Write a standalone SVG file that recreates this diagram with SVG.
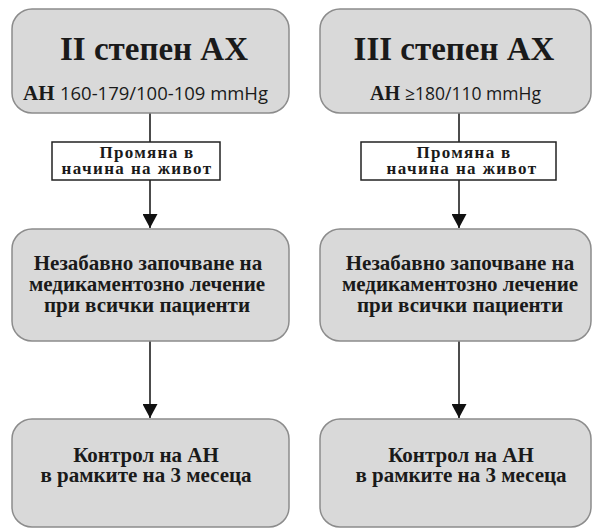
<svg xmlns="http://www.w3.org/2000/svg" width="593" height="530" viewBox="0 0 593 530">
<defs>
<style>
.box{fill:#d9d9d9;stroke:#8c8c8c;stroke-width:1.5}
.rect{fill:#ffffff;stroke:#222;stroke-width:1.5}
.ln{stroke:#111;stroke-width:1.5;fill:none}
</style>
<marker id="arr" viewBox="0 0 14 15" refX="14" refY="7.5" markerWidth="14" markerHeight="15" markerUnits="userSpaceOnUse" orient="auto">
<path d="M0,0 L14,7.5 L0,15 Z" fill="#111"/>
</marker>
</defs>
<rect width="593" height="530" fill="#ffffff"/>
<g id="connectors">
<line class="ln" x1="150" y1="113" x2="150" y2="142"/>
<line class="ln" x1="150" y1="180" x2="150" y2="228" marker-end="url(#arr)"/>
<line class="ln" x1="150" y1="341" x2="150" y2="418" marker-end="url(#arr)"/>
<line class="ln" x1="459" y1="113" x2="459" y2="142"/>
<line class="ln" x1="459" y1="180" x2="459" y2="228" marker-end="url(#arr)"/>
<line class="ln" x1="459" y1="341" x2="459" y2="418" marker-end="url(#arr)"/>
</g>
<g style="font-family:'Liberation Serif',serif;font-weight:bold" fill="#1a1a1a" text-anchor="middle">
<g id="n1">
<rect class="box" x="12" y="9" width="277" height="104" rx="20"/>
<text x="154" y="60" style="font-size:33px">II степен АХ</text>
<text x="23" y="100" text-anchor="start" style="font-size:21px">АН</text>
<text x="60" y="100" text-anchor="start" style="font-family:'Open Sans',sans-serif;font-weight:normal;font-size:18px" textLength="208" lengthAdjust="spacingAndGlyphs">160-179/100-109 mmHg</text>
</g>
<g id="n2">
<rect class="box" x="320" y="9" width="271" height="104" rx="20"/>
<text x="454" y="60" style="font-size:33px">III степен АХ</text>
<text x="370" y="100" text-anchor="start" style="font-size:20px">АН</text>
<text x="405" y="100" text-anchor="start" style="font-family:'Open Sans',sans-serif;font-weight:normal;font-size:18px" textLength="136" lengthAdjust="spacingAndGlyphs">≥180/110 mmHg</text>
</g>
<g id="n3">
<rect class="rect" x="52" y="142" width="168" height="38"/>
<text x="147" y="158" style="font-size:17px;letter-spacing:1.3px">Промяна в</text>
<text x="137" y="174" style="font-size:17px;letter-spacing:1.4px">начина на живот</text>
</g>
<g id="n4">
<rect class="rect" x="361" y="142" width="195" height="38"/>
<text x="464" y="158" style="font-size:17px;letter-spacing:1.3px">Промяна в</text>
<text x="462" y="174" style="font-size:17px;letter-spacing:1.4px">начина на живот</text>
</g>
<g id="n5">
<rect class="box" x="12" y="229" width="277" height="112" rx="20"/>
<text x="148" y="270" style="font-size:21px">Незабавно започване на</text>
<text x="147" y="291" style="font-size:21px">медикаментозно лечение</text>
<text x="147" y="312" style="font-size:21px">при всички пациенти</text>
</g>
<g id="n6">
<rect class="box" x="320" y="229" width="271" height="112" rx="20"/>
<text x="460" y="270" style="font-size:21px">Незабавно започване на</text>
<text x="460" y="291" style="font-size:21px">медикаментозно лечение</text>
<text x="460" y="312" style="font-size:21px">при всички пациенти</text>
</g>
<g id="n7">
<rect class="box" x="12" y="419" width="277" height="108" rx="20"/>
<text x="146" y="462" style="font-size:21px">Контрол на АН</text>
<text x="146" y="482" style="font-size:21px">в рамките на 3 месеца</text>
</g>
<g id="n8">
<rect class="box" x="320" y="419" width="271" height="108" rx="20"/>
<text x="461" y="462" style="font-size:21px">Контрол на АН</text>
<text x="461" y="482" style="font-size:21px">в рамките на 3 месеца</text>
</g>
</g>
</svg>
